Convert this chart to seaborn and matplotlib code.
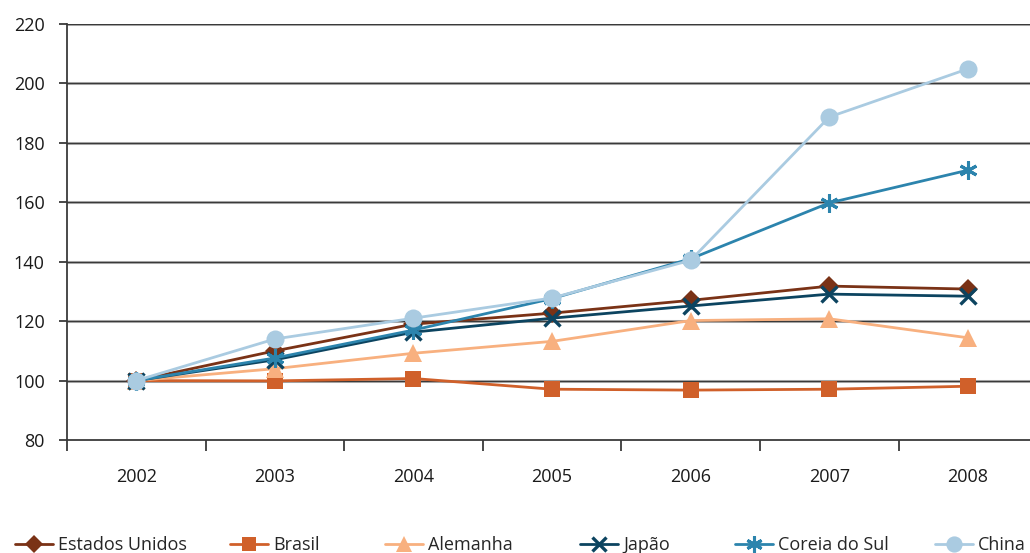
import matplotlib
matplotlib.use("Agg")
import matplotlib.pyplot as plt
import seaborn as sns
import pandas as pd
import numpy as np

years = ["2002", "2003", "2004", "2005", "2006", "2007", "2008"]
estados_unidos = [100, 110, 119, 122.7, 127, 131.8, 130.8]
brasil = [100, 99.9, 100.7, 97.1, 96.8, 97.1, 98.1]
alemanha = [100, 104, 109.2, 113.2, 120.2, 120.8, 114.4]
japao = [100, 107, 116.3, 121, 125.1, 129.1, 128.4]
coreia_do_sul = [100, 107.6, 117, 127.6, 141, 159.8, 170.8]
china = [100, 114, 121, 127.8, 140.5, 188.7, 204.9]

series_names = ["Estados Unidos", "Brasil", "Alemanha", "Japão", "Coreia do Sul", "China"]
series_values = [estados_unidos, brasil, alemanha, japao, coreia_do_sul, china]

colors = ["#7a3216", "#d0602a", "#f8b07f", "#0c4460", "#2c84ad", "#aacbe1"]
markers = ["D", "s", "^", "x", (6, 2, 0), "o"]
msizes = [10, 11, 13, 11, 13, 13]
mews = [0, 0, 0, 2.4, 2.2, 0]

df = pd.DataFrame(
    [(i, name, v) for name, vals in zip(series_names, series_values) for i, v in enumerate(vals)],
    columns=["pos", "serie", "valor"],
)

sns.set_theme(style="white")
plt.rcParams["font.family"] = ["Open Sans", "DejaVu Sans"]

fig = plt.figure(figsize=(10.30, 5.53), dpi=100)
ax = fig.add_axes([0.065, 0.2043, 0.942, 0.7523])

# horizontal grid
for yv in range(100, 221, 20):
    ax.axhline(yv, color="#bdbdbd", lw=2.2, zorder=0)
    ax.axhline(yv, color="#3a3a3a", lw=1.0, zorder=0.5)

for name, col, mk, ms, mew in zip(series_names, colors, markers, msizes, mews):
    sub = df[df["serie"] == name]
    sns.lineplot(data=sub, x="pos", y="valor", ax=ax, color=col, lw=2.0,
                 marker=mk, markersize=ms, markeredgewidth=mew,
                 markeredgecolor=col, label=name, legend=False)

ax.set_xlim(-0.5, 6.5)
ax.set_ylim(80, 220)
ax.set_yticks(range(80, 221, 20))
ax.set_xticks(range(len(years)))
ax.set_xticklabels(years)
ax.set_xticks(np.arange(-0.5, 7, 1), minor=True)
ax.set_xlabel("")
ax.set_ylabel("")

for s in ["top", "right"]:
    ax.spines[s].set_visible(False)
for s in ["left", "bottom"]:
    ax.spines[s].set_color("#3a3a3a")
    ax.spines[s].set_linewidth(1.3)

ax.tick_params(axis="x", which="major", length=0, pad=20, labelsize=13, colors="#1a1a1a")
ax.tick_params(axis="x", which="minor", length=8, width=1.3, color="#3a3a3a", direction="out", bottom=True)
ax.tick_params(axis="y", length=6, width=1.3, color="#3a3a3a", pad=10, labelsize=13,
               labelcolor="#1a1a1a", left=True)

# legend entries along the bottom, one per series
legend_x = [15, 230, 385, 580, 735, 935]
for name, col, mk, ms, mew, lx in zip(series_names, colors, markers, msizes, mews, legend_x):
    h, = ax.plot([], [], color=col, lw=2.0, marker=mk, markersize=ms * 0.9,
                 markeredgewidth=mew, markeredgecolor=col, label=name)
    fig.legend(handles=[h], loc="center left", bbox_to_anchor=(lx / 1030, 0.0145),
               frameon=False, fontsize=13, handlelength=2.1, handletextpad=0.28,
               borderpad=0, borderaxespad=0)

fig.savefig("out.png", dpi=100)
